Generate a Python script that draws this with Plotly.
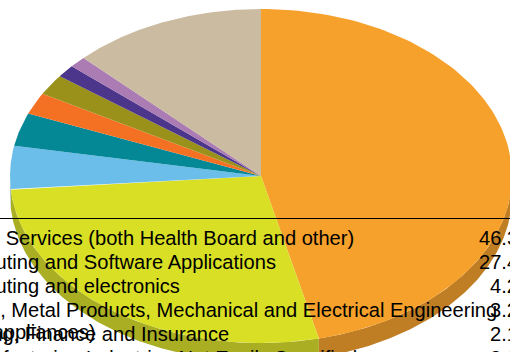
"""Squashed 3D-look pie with the table of sectors running behind it."""
import numpy as np
import plotly.graph_objects as go

sectors = ["Health Services (both Health Board and other)",
           "Computing and Software Applications",
           "Computing and electronics",
           "Metals, Metal Products, Mechanical and Electrical Engineering",
           "Banking, Finance and Insurance",
           "Other Manufacturing Industries Not Easily Specified"]
shares = [46.3, 27.4, 4.2, 3.2, 2.1, 2.0, 1.2, 1.1, 12.5]
share_labels = ["46.3", "27.4", "4.2", "3.2", "2.1", "2.0"]
top_colors = ["#F6A12C", "#D8DF25", "#6CBEEA", "#058896", "#F47124",
              "#9A911B", "#4B368C", "#AB7BB3", "#CBBBA0"]
side_colors = ["#BF7D24", "#A9AE22", "#5493B6", "#046A75", "#BE581C",
               "#787115", "#3A2A6D", "#85608B", "#9E917C"]

W, H = 510, 352
CX, CY, RX, RY, DEPTH = 261, 176, 251, 167, 19
FONT = dict(family="Liberation Sans", size=20.1, color="#000000")


def arc(a0, a1):
    t = np.radians(np.linspace(a0, a1, 120))
    return CX + RX * np.sin(t), CY - RY * np.cos(t)


def label(text, x_right, y):
    # paper coordinates, so text running past the page is cut and not dropped
    fig.add_annotation(x=x_right / W, y=1 - y / H, text=text,
                       xref="paper", yref="paper", xanchor="right",
                       yanchor="middle", showarrow=False, font=FONT)


fig = go.Figure()
edges = np.cumsum([0] + shares) / sum(shares) * 360

# walls first, only the part of each slice on the front half of the pie
for i in range(len(shares)):
    a0, a1 = max(edges[i], 90), min(edges[i + 1], 270)
    if a0 >= a1:
        continue
    x, y = arc(a0, a1)
    fig.add_trace(go.Scatter(
        x=np.r_[x, x[::-1]], y=np.r_[y, y[::-1] + DEPTH],
        mode="lines", fill="toself", fillcolor=side_colors[i],
        line=dict(width=0), hoverinfo="skip"))

# top face
for i in range(len(shares)):
    x, y = arc(edges[i], edges[i + 1])
    fig.add_trace(go.Scatter(
        x=np.r_[CX, x, CX], y=np.r_[CY, y, CY],
        mode="lines", fill="toself", fillcolor=top_colors[i],
        line=dict(width=0), hoverinfo="skip"))

row_y = [238, 262, 286, 310, 334, 358]
row_end = [356, 278, 182, 499, 231, 359]
for name, val, y, end in zip(sectors, share_labels, row_y, row_end):
    label(name, end, y)
    label(val, 520, y)
label("(appliances)", 97, 332)

fig.add_shape(type="line", x0=0, x1=W, y0=218.5, y1=218.5,
              line=dict(color="#000000", width=1))

fig.update_layout(
    width=W, height=H, margin=dict(l=0, r=0, t=0, b=0),
    paper_bgcolor="#FFFFFF", plot_bgcolor="#FFFFFF", showlegend=False,
    xaxis=dict(range=[0, W], visible=False),
    yaxis=dict(range=[H, 0], visible=False),
)
fig.write_html("out.html", config=dict(displayModeBar=False),
               post_script="document.body.style.margin='0';document.body.style.overflow='hidden';")
